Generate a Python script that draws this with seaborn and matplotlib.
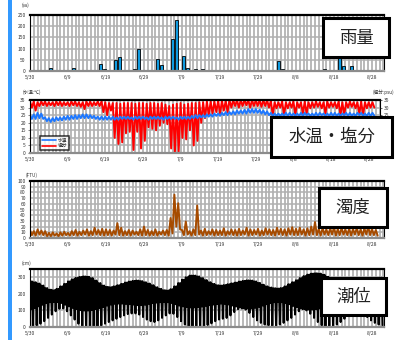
import numpy as np
import matplotlib
matplotlib.use("Agg")
import matplotlib.pyplot as plt
from matplotlib.patches import Rectangle
from matplotlib.lines import Line2D
import seaborn as sns

sns.set_theme(style="white")
plt.rcParams['font.family'] = ['Noto Sans CJK JP', 'DejaVu Sans']

# ---- data (day 0 = 5/30) ----
date_ticks = [0, 10, 20, 30, 40, 50, 60, 70, 80, 90]
date_labels = ['5/30', '6/9', '6/19', '6/29', '7/9', '7/19', '7/29', '8/8', '8/18', '8/28']

# daily rainfall (mm)
rain_day = [3, 4, 5, 7, 11, 18, 19, 21, 22, 23, 27, 28, 33, 34, 37, 38, 40, 41, 43, 45,
            62, 63, 65, 66, 68, 69, 72, 77, 80, 81, 82, 84, 86, 91]
rain_mm = [5, 5, 12, 3, 15, 30, 8, 5, 51, 63, 10, 100, 55, 28, 145, 228, 66, 13, 10, 10,
           3, 5, 43, 10, 3, 5, 2, 8, 5, 80, 22, 21, 5, 3]

# water temperature, daily max / min (deg C)
temp_hi = [25, 25.5, 26.5, 26, 23.5, 23, 23, 23.5, 23.5, 24,
           24.5, 24.5, 25, 25, 25.5, 25.5, 25, 24.5, 24, 24,
           24, 24, 24, 23.5, 24, 24, 24, 23.5, 24, 24,
           24, 23.5, 24, 24, 24, 23.5, 24, 24, 24, 23.5,
           24, 24, 24, 24.5, 25, 25, 25, 25.5, 25.5, 26,
           26, 26.5, 27, 27, 27.5, 28, 28, 28.5, 29, 29,
           29, 28.5, 28, 27.5, 26.5, 26, 26, 26, 26.5, 26.5,
           26, 26, 26.5, 26.5, 26, 26, 26.5, 26.5, 26, 26,
           26.5, 26.5, 26, 26, 26.5, 26.5, 26, 26.5, 26.5, 26,
           26.5, 26.5]
temp_lo = [22.5, 22.5, 23, 22.5, 21, 20.5, 21, 21.5, 21.5, 22,
           22, 22.5, 22.5, 23, 23, 23, 23, 22.5, 22, 22,
           22, 22, 22, 22, 22.5, 22.5, 22.5, 22, 22.5, 22.5,
           22.5, 22, 22.5, 22.5, 22.5, 22, 22.5, 22.5, 22.5, 22,
           22.5, 22.5, 22.5, 23, 23, 23.5, 23.5, 24, 24, 24.5,
           24.5, 25, 25, 25.5, 25.5, 26, 26, 26, 26.5, 26.5,
           26.5, 26, 25.5, 25, 24.5, 24.5, 24.5, 24.5, 24.5, 24.5,
           24.5, 24.5, 24.5, 25, 24.5, 24.5, 24.5, 25, 24.5, 24.5,
           24.5, 24.5, 24.5, 25, 24.5, 24.5, 24.5, 25, 24.5, 24.5,
           24.5, 24.5]

# salinity, daily max / min (psu)
sal_hi = [34, 34, 33.5, 34, 34, 33.5, 33.5, 34, 34, 33.5,
          33.5, 34, 34, 33.5, 33.5, 34, 34, 33.5, 34, 34,
          33.5, 33, 33, 33, 32.5, 33, 33, 33, 32.5, 33,
          33, 32.5, 33, 33, 32.5, 33, 32, 31, 32, 32.5,
          33, 32, 32.5, 33, 33, 33.5, 33.5, 34, 34, 34,
          34.5, 34.5, 34.5, 35, 35, 35, 35, 35, 35, 35,
          35, 35, 35, 35, 34.5, 33.5, 33.5, 34, 33.5, 33.5,
          34, 33.5, 33.5, 34, 33.5, 33.5, 34, 33.5, 33.5, 34,
          33.5, 33.5, 34, 33.5, 33.5, 34, 33.5, 33.5, 34, 33.5,
          33.5, 33.5]
sal_lo = [30, 28, 31, 31.5, 31, 31.5, 31, 31.5, 31, 31.5,
          31, 31.5, 31, 30.5, 29, 31, 31, 31.5, 31, 27,
          25, 28, 10, 6, 7, 13, 14, 2, 14, 3,
          8, 17, 16, 15, 18, 20, 19, 3, 0, 0.5,
          10, 9, 15, 5, 8, 20, 23, 25, 26, 27,
          26, 28, 27, 30, 31, 30, 31, 31.5, 30, 31,
          31, 30.5, 31, 30, 25, 29.5, 30, 25, 29.5, 30,
          25, 30, 26, 26, 29.5, 30, 30.5, 29.5, 26, 30,
          30.5, 29.5, 25, 25, 30, 30.5, 29.5, 26, 25, 29.5,
          30, 30]

# turbidity, daily max / min (FTU)
turb_hi = [14, 12, 15, 13, 12, 9, 10, 8, 10, 11,
           9, 12, 14, 11, 13, 15, 12, 18, 14, 16,
           15, 14, 13, 26, 18, 12, 14, 13, 11, 15,
           20, 14, 12, 15, 11, 13, 14, 35, 76, 61,
           14, 29, 12, 15, 57, 13, 16, 12, 15, 14,
           13, 17, 12, 15, 14, 16, 13, 18, 15, 14,
           16, 13, 17, 15, 14, 18, 16, 15, 17, 19,
           16, 18, 15, 17, 20, 28, 16, 18, 15, 17,
           19, 16, 18, 15, 17, 16, 18, 15, 17, 20,
           16, 14]
turb_lo = [5, 4, 6, 5, 3, 3, 4, 3, 4, 5,
           4, 5, 4, 5, 6, 4, 5, 6, 5, 4,
           5, 4, 6, 5, 4, 5, 4, 6, 5, 4,
           5, 4, 5, 4, 6, 5, 4, 8, 20, 15,
           5, 6, 4, 5, 6, 4, 5, 6, 4, 5,
           5, 4, 6, 5, 4, 5, 6, 4, 5, 6,
           4, 5, 6, 5, 4, 6, 5, 4, 6, 5,
           5, 6, 4, 5, 6, 5, 4, 6, 5, 6,
           4, 5, 6, 5, 4, 6, 5, 4, 6, 5,
           5, 4]

# tide level (cm): daily high water, higher low water, lower low water
tide_hi = [275, 270, 262, 250, 235, 225, 222, 230, 245, 260,
           275, 287, 296, 302, 305, 303, 295, 280, 265, 250,
           242, 240, 245, 252, 260, 268, 274, 278, 280, 277,
           270, 262, 252, 240, 230, 222, 220, 228, 245, 265,
           285, 300, 310, 310, 305, 295, 283, 270, 260, 252,
           250, 253, 258, 263, 268, 274, 278, 281, 280, 275,
           266, 255, 245, 238, 234, 232, 235, 245, 258, 270,
           282, 295, 307, 316, 322, 324, 322, 315, 303, 290,
           276, 262, 252, 245, 242, 245, 252, 262, 272, 282,
           290, 295, 297]
tide_lo_in = [110, 115, 125, 135, 145, 150, 152, 150, 145, 135,
              125, 115, 108, 102, 100, 100, 102, 108, 115, 122,
              130, 136, 140, 142, 142, 140, 138, 135, 132, 132,
              135, 140, 145, 148, 150, 152, 150, 145, 138, 130,
              125, 120, 118, 118, 120, 124, 128, 132, 136, 140,
              142, 140, 136, 130, 124, 118, 114, 112, 112, 116,
              122, 130, 138, 145, 150, 152, 150, 145, 138, 128,
              120, 112, 108, 106, 106, 108, 112, 118, 124, 130,
              136, 140, 142, 140, 136, 130, 126, 122, 120, 118,
              118, 120, 122]
tide_lo_out = [5, 10, 20, 35, 55, 75, 95, 110, 112, 95,
               70, 45, 20, 5, 0, 0, 0, 5, 10, 20,
               30, 40, 50, 60, 70, 78, 82, 82, 75, 60,
               45, 35, 30, 40, 55, 70, 82, 80, 60, 35,
               15, 5, 0, 0, 0, 5, 12, 22, 35, 45,
               50, 55, 70, 90, 108, 112, 105, 85, 60, 40,
               25, 15, 10, 8, 10, 15, 25, 40, 55, 75,
               95, 108, 100, 80, 55, 30, 10, 0, 0, 5,
               15, 30, 50, 70, 90, 100, 95, 80, 60, 40,
               25, 15, 10]

W, H = 396, 340
PX_PER_DAY = 3.8
GRID = '#b0b0b0'
TXT = '#333333'

fig = plt.figure(figsize=(W / 100, H / 100), dpi=100)
fig.patch.set_facecolor('white')


def panel(x0, y0, x1, y1):
    ax = fig.add_axes([x0 / W, 1 - y1 / H, (x1 - x0) / W, (y1 - y0) / H])
    ax.set_xlim(0, (x1 - x0) / PX_PER_DAY)
    return ax


def style(ax, ymax, ystep):
    ax.set_ylim(0, ymax)
    ax.set_xticks(date_ticks)
    ax.set_xticklabels(date_labels)
    ax.set_xticks(np.arange(0, 94), minor=True)
    ax.set_yticks(np.arange(0, ymax + 1, ystep))
    ax.grid(which='both', axis='x', color=GRID, lw=1.25)
    ax.grid(which='major', axis='y', color=GRID, lw=1.1)
    ax.set_axisbelow(True)
    ax.tick_params(axis='both', which='major', labelsize=3.6, labelcolor=TXT,
                   length=1.5, width=0.5, pad=1.5, color='#555555')
    ax.tick_params(axis='x', which='minor', length=0)
    for s in ['left', 'right']:
        ax.spines[s].set_color('black')
        ax.spines[s].set_linewidth(0.8)
    ax.spines['top'].set_color('black')
    ax.spines['top'].set_linewidth(1.6)
    ax.spines['bottom'].set_color('#8c8c8c')
    ax.spines['bottom'].set_linewidth(1.6)
    ax.set_xlabel('')
    ax.set_ylabel('')


def zigzag(*cols):
    # interleave the per-day readings along the day axis
    n = len(cols[0])
    k = len(cols)
    t = np.repeat(np.arange(n), k) + np.tile(np.arange(k) / k, n)
    v = np.column_stack(cols).ravel()
    return t, v


def title_box(x0, y0, x1, y1, text):
    fig.add_artist(Rectangle((x0 / W, 1 - y1 / H), (x1 - x0) / W, (y1 - y0) / H,
                             transform=fig.transFigure, facecolor='white',
                             edgecolor='black', lw=2.2, zorder=10))
    fig.text((x0 + x1) / 2 / W, 1 - (y0 + y1) / 2 / H, text, ha='center', va='center',
             fontsize=12.5, color='#222222', zorder=11)


def unit(x, y, text, ha='left'):
    fig.text(x / W, 1 - y / H, text, ha=ha, va='center', fontsize=3.4, color=TXT)


# ---- rain ----
ax1 = panel(30, 15, 384, 71)
sns.barplot(x=np.array(rain_day) + 0.5, y=rain_mm, native_scale=True, width=0.8,
            color='#109be0', saturation=1, edgecolor='black', linewidth=0.6, ax=ax1)
ax1.set_xlim(0, 354 / PX_PER_DAY)
style(ax1, 250, 50)
unit(22, 5, '(㎜)')

# ---- water temperature / salinity ----
ax2 = panel(30, 100, 380, 153)
ts, vs = zigzag(sal_hi, sal_lo)
sns.lineplot(x=ts, y=vs, color='#ff0000', lw=1.4, estimator=None, ax=ax2)
tt, vt = zigzag(temp_hi, temp_lo)
sns.lineplot(x=tt, y=vt, color='#1e78ff', lw=1.4, estimator=None, ax=ax2)
style(ax2, 35, 5)
ax2r = ax2.twinx()
ax2r.set_ylim(0, 35)
ax2r.set_yticks(np.arange(0, 36, 5))
ax2r.tick_params(axis='y', labelsize=3.6, labelcolor=TXT, length=1.5, width=0.5, pad=1.5)
for s in ax2r.spines.values():
    s.set_visible(False)
ax2r.grid(False)
handles = [Line2D([], [], color='#1e78ff', lw=1.2), Line2D([], [], color='#ff0000', lw=1.2)]
leg = ax2.legend(handles, ['水温', '塩分'], loc='lower left', bbox_to_anchor=(0.029, 0.057),
                 fontsize=3.4, frameon=True, fancybox=False, handlelength=3.0,
                 borderpad=0.35, labelspacing=0.15, handletextpad=0.4, borderaxespad=0)
leg.get_frame().set_edgecolor('black')
leg.get_frame().set_linewidth(1.1)
unit(23, 92, '(水温:℃)')
unit(373, 92, '(塩分:psu)')

# ---- turbidity ----
ax3 = panel(30, 181, 384, 238)
tb, vb = zigzag(turb_hi, turb_lo)
sns.lineplot(x=tb, y=vb, color='#a64b00', lw=1.4, estimator=None, ax=ax3)
style(ax3, 100, 10)
unit(26, 175, '(FTU)')

# ---- tide ----
ax4 = panel(30, 269, 384, 327)
tw, vw = zigzag(tide_hi, tide_lo_in, tide_hi, tide_lo_out)
sns.lineplot(x=tw, y=vw, color='black', lw=1.45, estimator=None, ax=ax4)
style(ax4, 350, 100)
unit(22, 263, '(cm)')

# panel name boxes
title_box(323, 18, 389, 57, '雨量')
title_box(271, 117, 392, 157, '水温・塩分')
title_box(319, 188, 387, 227, '濁度')
title_box(321, 278, 386, 315, '潮位')

# blue bar on the left edge
fig.add_artist(Rectangle((8 / W, 0), 4 / W, 1, transform=fig.transFigure,
                         facecolor='#3399ff', edgecolor='none', zorder=5))

fig.savefig('out.png', dpi=100, facecolor='white')
